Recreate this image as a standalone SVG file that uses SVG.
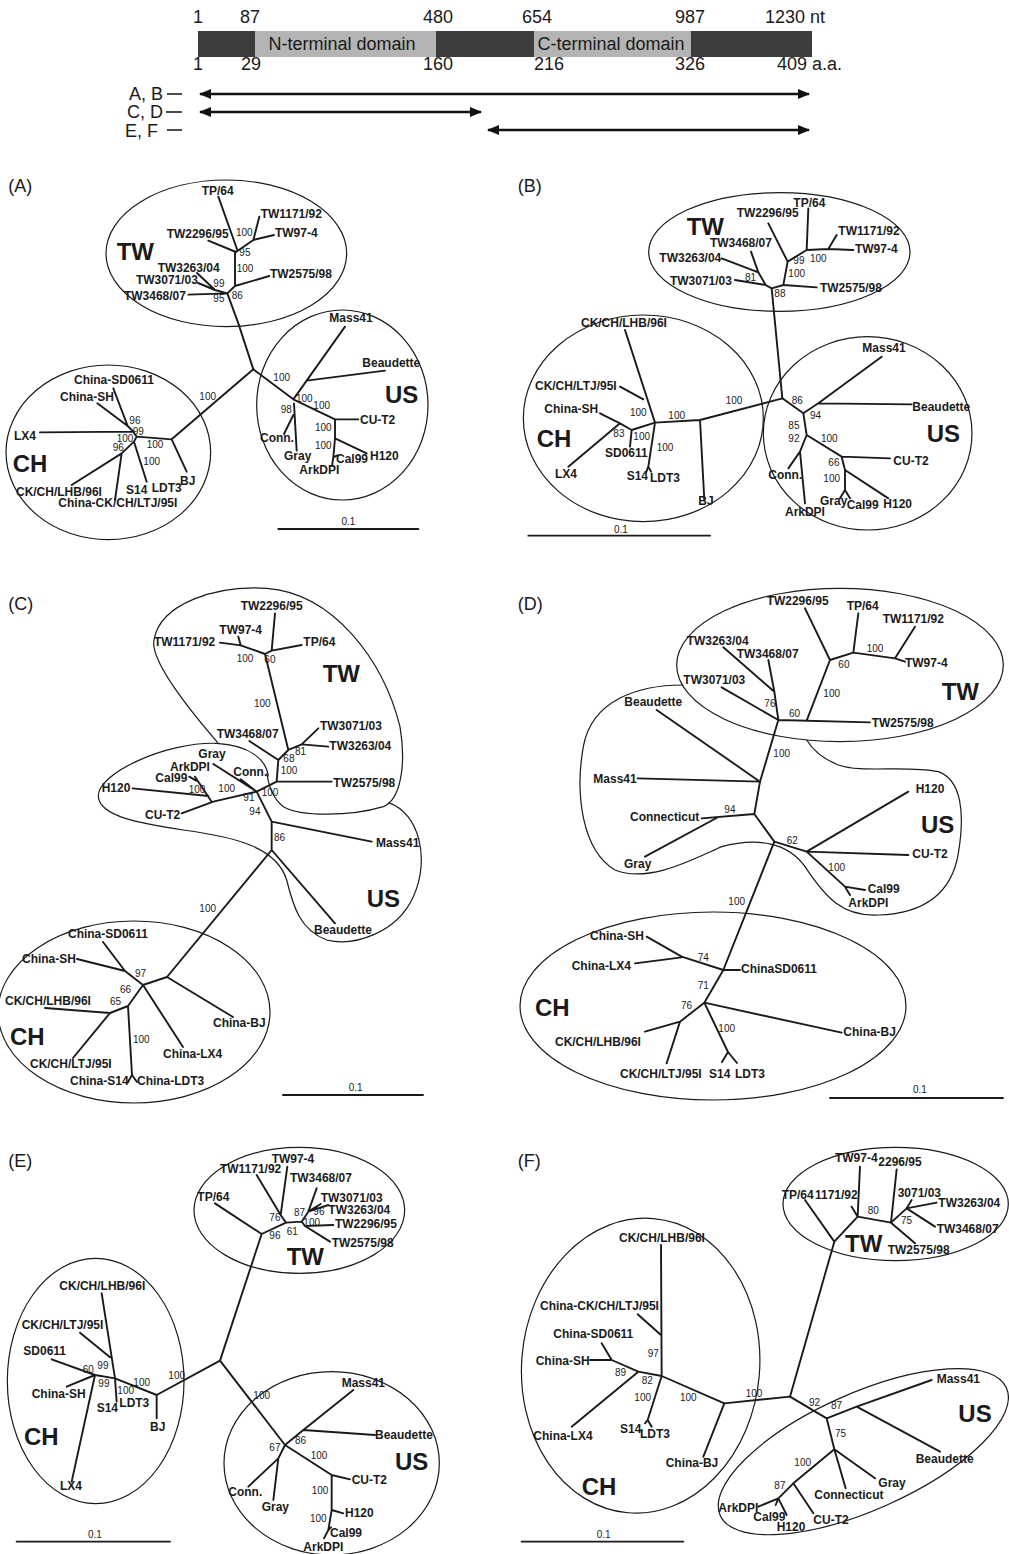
<svg xmlns="http://www.w3.org/2000/svg" width="1009" height="1554" viewBox="0 0 1009 1554">
<style>
.ln{fill:none;stroke:#1a1a1a;stroke-width:1.9;vector-effect:non-scaling-stroke;stroke-linecap:round;stroke-linejoin:round}
.el{fill:none;stroke:#1a1a1a;stroke-width:1.2;vector-effect:non-scaling-stroke}
text{font-family:'Liberation Sans',Arial,Helvetica,sans-serif;fill:#1a1a1a}
.lb{font-size:36px;font-weight:bold}
.bs{font-size:30px}
.big{font-size:72px;font-weight:bold}
.pl{font-size:54px}
.top{font-size:18px}
.dom{font-size:18px}
.arr{fill:none;stroke:#111;stroke-width:2.4}
</style>
<defs>
<marker id="ah" viewBox="0 0 12 10" refX="11" refY="5" markerWidth="12" markerHeight="10" markerUnits="userSpaceOnUse" orient="auto-start-reverse"><path d="M0 0L12 5L0 10z" fill="#111"/></marker>
</defs>
<rect width="1009" height="1554" fill="#fff"/>

<g id="genome-map">
<rect x="198" y="31" width="614" height="26" fill="#3c3c3c"/>
<rect x="255" y="31" width="181" height="26" fill="#b4b4b4"/>
<rect x="534" y="31" width="157" height="26" fill="#b4b4b4"/>
<text class="dom" x="342" y="50" text-anchor="middle">N-terminal domain</text>
<text class="dom" x="611" y="50" text-anchor="middle">C-terminal domain</text>
<g>
<text class="top" x="198" y="23" text-anchor="middle">1</text>
<text class="top" x="250" y="23" text-anchor="middle">87</text>
<text class="top" x="438" y="23" text-anchor="middle">480</text>
<text class="top" x="537" y="23" text-anchor="middle">654</text>
<text class="top" x="690" y="23" text-anchor="middle">987</text>
<text class="top" x="765" y="23">1230 nt</text>
<text class="top" x="198" y="70" text-anchor="middle">1</text>
<text class="top" x="251" y="70" text-anchor="middle">29</text>
<text class="top" x="438" y="70" text-anchor="middle">160</text>
<text class="top" x="549" y="70" text-anchor="middle">216</text>
<text class="top" x="690" y="70" text-anchor="middle">326</text>
<text class="top" x="777" y="70">409 a.a.</text>
<text class="top" x="163" y="100" text-anchor="end">A, B</text>
<text class="top" x="163" y="118" text-anchor="end">C, D</text>
<text class="top" x="158" y="137" text-anchor="end">E, F</text>
</g>
<path d="M167 94H182M166 112H182M167 130H182" stroke="#111" stroke-width="1.5"/>
<path class="arr" d="M200 94H809" marker-start="url(#ah)" marker-end="url(#ah)"/>
<path class="arr" d="M200 112H481" marker-start="url(#ah)" marker-end="url(#ah)"/>
<path class="arr" d="M488 130H809" marker-start="url(#ah)" marker-end="url(#ah)"/>
</g>

<!-- Panel A -->
<g id="panel-A" transform="translate(0,170) scale(0.33333)">
<text class="pl" x="25" y="65">(A)</text>
<g id="A-TW"><ellipse class="el" cx="679" cy="250" rx="361" ry="220"/><text class="big" x="350" y="270">TW</text></g>
<g id="A-US"><ellipse class="el" cx="1027" cy="705" rx="257" ry="285"/><text class="big" x="1155" y="700">US</text></g>
<g id="A-CH"><ellipse class="el" cx="325" cy="847" rx="307" ry="262"/><text class="big" x="38" y="905">CH</text></g>
<g id="A-connectors">
<path class="ln" d="M760 598L715 460L682 370M565 374L682 370M591 309L645 360M594 339L645 360M645 360L682 370M682 370L705 348M705 348L808 318M705 348L705 246M625 212L708 246M655 80L712 240M708 246L760 210M760 210L778 140M760 210L822 195"/>
<path class="ln" d="M760 598L880 688M880 688L920 632M920 632L1035 470M920 632L1155 602M880 688L1005 748M1005 748L1075 748M1005 748L1005 805M1005 805L1100 850M1005 805L1000 862M1000 862L1012 856M1000 862L996 888M882 700L890 842M880 735L852 792"/>
<path class="ln" d="M760 598L515 808M515 808L560 905M515 808L410 800M410 800L400 785M120 787L400 785M400 785L383 768M383 768L292 700M383 768L340 655M410 800L402 815M402 815L440 935M402 815L365 850M365 850L215 945M365 850L345 990"/>
<path class="ln" d="M835 1077H1255"/>
</g>
<g id="A-labels">
<text class="lb" x="605" y="75">TP/64</text>
<text class="lb" x="782" y="145">TW1171/92</text>
<text class="lb" x="500" y="205">TW2296/95</text>
<text class="lb" x="825" y="200">TW97-4</text>
<text class="lb" x="473" y="305">TW3263/04</text>
<text class="lb" x="408" y="343">TW3071/03</text>
<text class="lb" x="372" y="390">TW3468/07</text>
<text class="lb" x="810" y="325">TW2575/98</text>
<text class="lb" x="988" y="455">Mass41</text>
<text class="lb" x="1087" y="592">Beaudette</text>
<text class="lb" x="1080" y="762">CU-T2</text>
<text class="lb" x="1110" y="870">H120</text>
<text class="lb" x="1008" y="880">Cal99</text>
<text class="lb" x="898" y="912">ArkDPI</text>
<text class="lb" x="852" y="870">Gray</text>
<text class="lb" x="780" y="815">Conn.</text>
<text class="lb" x="222" y="642">China-SD0611</text>
<text class="lb" x="180" y="692">China-SH</text>
<text class="lb" x="42" y="810">LX4</text>
<text class="lb" x="48" y="977">CK/CH/LHB/96I</text>
<text class="lb" x="175" y="1012">China-CK/CH/LTJ/95I</text>
<text class="lb" x="378" y="972">S14</text>
<text class="lb" x="455" y="965">LDT3</text>
<text class="lb" x="540" y="945">BJ</text>
<text class="bs" x="708" y="198">100</text>
<text class="bs" x="718" y="258">95</text>
<text class="bs" x="710" y="305">100</text>
<text class="bs" x="640" y="352">99</text>
<text class="bs" x="640" y="395">95</text>
<text class="bs" x="695" y="387">86</text>
<text class="bs" x="820" y="632">100</text>
<text class="bs" x="888" y="697">100</text>
<text class="bs" x="940" y="717">100</text>
<text class="bs" x="842" y="730">98</text>
<text class="bs" x="945" y="782">100</text>
<text class="bs" x="945" y="838">100</text>
<text class="bs" x="598" y="690">100</text>
<text class="bs" x="388" y="763">96</text>
<text class="bs" x="398" y="795">99</text>
<text class="bs" x="350" y="815">100</text>
<text class="bs" x="338" y="843">96</text>
<text class="bs" x="440" y="835">100</text>
<text class="bs" x="430" y="885">100</text>
<text class="bs" x="1045" y="1066" text-anchor="middle">0.1</text>
</g>
</g>

<!-- Panel B -->
<g id="panel-B" transform="translate(505,170) scale(0.33333)">
<text class="pl" x="38" y="65">(B)</text>
<g id="B-TW"><ellipse class="el" cx="823" cy="246" rx="392" ry="178"/><text class="big" x="545" y="195">TW</text></g>
<g id="B-CH"><ellipse class="el" cx="415" cy="745" rx="360" ry="310"/><text class="big" x="95" y="832">CH</text></g>
<g id="B-US"><ellipse class="el" cx="1088" cy="790" rx="313" ry="290"/><text class="big" x="1265" y="817">US</text></g>
<g id="B-connectors">
<path class="ln" d="M832 685L800 355M800 355L782 345M782 345L690 330M782 345L760 307M760 307L650 265M760 307L738 245M800 355L835 345M835 345L935 352M835 345L848 275M848 275L790 160M848 275L905 240M905 240L910 115M905 240L970 237M970 237L995 195M970 237L1045 240"/>
<path class="ln" d="M832 685L585 750M585 750L598 990M585 750L450 758M450 758L360 480M415 688L345 650M450 758L430 890M430 890L424 905M430 890L438 905M450 758L380 780M380 780L375 830M380 780L345 760M345 760L285 730M345 760L190 890"/>
<path class="ln" d="M832 685L895 730M895 730L940 700M940 700L1130 560M940 700L1220 703M895 730L905 795M905 795L885 845M885 845L850 895M885 845L900 1000M905 795L1010 860M1010 860L1155 865M1010 860L1020 900M1020 900L1150 985M1020 900L1020 960M1020 960L1005 985M1020 960L1035 985"/>
<path class="ln" d="M70 1097H615"/>
</g>
<g id="B-labels">
<text class="lb" x="495" y="345">TW3071/03</text>
<text class="lb" x="463" y="275">TW3263/04</text>
<text class="lb" x="615" y="230">TW3468/07</text>
<text class="lb" x="945" y="365">TW2575/98</text>
<text class="lb" x="695" y="140">TW2296/95</text>
<text class="lb" x="865" y="110">TP/64</text>
<text class="lb" x="1000" y="195">TW1171/92</text>
<text class="lb" x="1050" y="250">TW97-4</text>
<text class="lb" x="228" y="470">CK/CH/LHB/96I</text>
<text class="lb" x="90" y="660">CK/CH/LTJ/95I</text>
<text class="lb" x="118" y="730">China-SH</text>
<text class="lb" x="300" y="860">SD0611</text>
<text class="lb" x="150" y="925">LX4</text>
<text class="lb" x="365" y="930">S14</text>
<text class="lb" x="435" y="935">LDT3</text>
<text class="lb" x="580" y="1005">BJ</text>
<text class="lb" x="1072" y="545">Mass41</text>
<text class="lb" x="1222" y="722">Beaudette</text>
<text class="lb" x="790" y="927">Conn.</text>
<text class="lb" x="840" y="1037">ArkDPI</text>
<text class="lb" x="1165" y="885">CU-T2</text>
<text class="lb" x="1135" y="1015">H120</text>
<text class="lb" x="945" y="1005">Gray</text>
<text class="lb" x="1025" y="1017">Cal99</text>
<text class="bs" x="720" y="332">81</text>
<text class="bs" x="808" y="382">88</text>
<text class="bs" x="850" y="322">100</text>
<text class="bs" x="865" y="282">99</text>
<text class="bs" x="915" y="277">100</text>
<text class="bs" x="662" y="702">100</text>
<text class="bs" x="490" y="747">100</text>
<text class="bs" x="375" y="737">100</text>
<text class="bs" x="325" y="802">83</text>
<text class="bs" x="385" y="810">100</text>
<text class="bs" x="455" y="842">100</text>
<text class="bs" x="860" y="702">86</text>
<text class="bs" x="915" y="747">94</text>
<text class="bs" x="850" y="777">85</text>
<text class="bs" x="850" y="817">92</text>
<text class="bs" x="948" y="817">100</text>
<text class="bs" x="970" y="887">66</text>
<text class="bs" x="955" y="937">100</text>
<text class="bs" x="348" y="1088" text-anchor="middle">0.1</text>
</g>
</g>

<!-- Panel C -->
<g id="panel-C" transform="translate(0,560) scale(0.33333)">
<text class="pl" x="25" y="150">(C)</text>
<g id="C-TW"><path class="el" d="M655 550C560 440 450 300 462 240C480 130 650 75 800 85C1000 100 1150 300 1200 500C1220 620 1200 720 1150 740C1050 770 900 770 850 740C810 710 805 660 800 640"/><text class="big" x="968" y="365">TW</text></g>
<g id="C-US"><path class="el" d="M1165 728C1260 760 1290 900 1240 1010C1190 1120 1060 1160 980 1140C900 1110 880 1040 860 960C830 860 700 830 550 810C420 790 300 770 295 710C290 640 500 545 650 550C750 555 800 600 805 650"/><text class="big" x="1100" y="1040">US</text></g>
<g id="C-CH"><ellipse class="el" cx="402" cy="1356" rx="408" ry="273"/><text class="big" x="30" y="1455">CH</text></g>
<g id="C-connectors">
<path class="ln" d="M722 256L660 248M722 256L715 230M722 256L795 282M795 282L815 272M815 272L825 160M815 272L905 255M795 282L865 570M865 570L905 553M905 553L955 505M905 553L985 560M865 570L835 600M835 600L748 543M835 600L830 665M830 665L995 665M830 665L770 695"/>
<path class="ln" d="M770 695L640 725M585 650L635 725M568 650L588 662M398 685L625 708M545 760L640 725M770 695L640 612M770 695L722 658M770 695L815 785M815 785L1115 845M815 785L815 870M815 870L1005 1090M815 870L501 1251"/>
<path class="ln" d="M501 1251L429 1275M429 1275L375 1233M375 1233L309 1146M375 1233L231 1197M501 1251L699 1371M429 1275L384 1338M384 1338L330 1359M330 1359L135 1344M330 1359L219 1494M384 1338L396 1545M396 1545L384 1566M396 1545L411 1566M429 1275L549 1461"/>
<path class="ln" d="M849 1605H1269"/>
</g>
<g id="C-labels">
<text class="lb" x="722" y="150">TW2296/95</text>
<text class="lb" x="658" y="222">TW97-4</text>
<text class="lb" x="462" y="258">TW1171/92</text>
<text class="lb" x="910" y="258">TP/64</text>
<text class="lb" x="650" y="535">TW3468/07</text>
<text class="lb" x="960" y="510">TW3071/03</text>
<text class="lb" x="988" y="570">TW3263/04</text>
<text class="lb" x="1000" y="680">TW2575/98</text>
<text class="lb" x="595" y="595">Gray</text>
<text class="lb" x="510" y="632">ArkDPI</text>
<text class="lb" x="700" y="647">Conn.</text>
<text class="lb" x="466" y="666">Cal99</text>
<text class="lb" x="305" y="697">H120</text>
<text class="lb" x="435" y="777">CU-T2</text>
<text class="lb" x="1128" y="860">Mass41</text>
<text class="lb" x="942" y="1122">Beaudette</text>
<text class="lb" x="204" y="1134">China-SD0611</text>
<text class="lb" x="66" y="1209">China-SH</text>
<text class="lb" x="639" y="1401">China-BJ</text>
<text class="lb" x="15" y="1335">CK/CH/LHB/96I</text>
<text class="lb" x="90" y="1524">CK/CH/LTJ/95I</text>
<text class="lb" x="210" y="1575">China-S14</text>
<text class="lb" x="411" y="1575">China-LDT3</text>
<text class="lb" x="489" y="1494">China-LX4</text>
<text class="bs" x="710" y="307">100</text>
<text class="bs" x="793" y="309">60</text>
<text class="bs" x="762" y="442">100</text>
<text class="bs" x="850" y="607">68</text>
<text class="bs" x="885" y="585">81</text>
<text class="bs" x="842" y="642">100</text>
<text class="bs" x="785" y="707">100</text>
<text class="bs" x="566" y="700">100</text>
<text class="bs" x="655" y="697">100</text>
<text class="bs" x="730" y="722">91</text>
<text class="bs" x="748" y="764">94</text>
<text class="bs" x="822" y="842">86</text>
<text class="bs" x="598" y="1057">100</text>
<text class="bs" x="405" y="1251">97</text>
<text class="bs" x="360" y="1299">66</text>
<text class="bs" x="330" y="1335">65</text>
<text class="bs" x="399" y="1449">100</text>
<text class="bs" x="1067" y="1593" text-anchor="middle">0.1</text>
</g>
</g>

<!-- Panel D -->
<g id="panel-D" transform="translate(505,560) scale(0.33333)">
<text class="pl" x="38" y="150">(D)</text>
<g id="D-TW"><ellipse class="el" cx="1005" cy="315" rx="490" ry="230"/><text class="big" x="1310" y="420">TW</text></g>
<g id="D-US"><path class="el" d="M535 375C400 375 260 420 235 560C210 700 230 870 330 930C430 970 560 900 650 860C760 830 850 850 900 920C960 1010 1010 1070 1120 1065C1260 1060 1340 1000 1360 880C1380 760 1370 660 1300 635C1200 615 1070 640 1000 615C950 595 920 565 905 540"/><text class="big" x="1248" y="820">US</text></g>
<g id="D-CH"><ellipse class="el" cx="624" cy="1338" rx="579" ry="282"/><text class="big" x="90" y="1367">CH</text></g>
<g id="D-connectors">
<path class="ln" d="M975 300L900 145M975 300L1045 278M1045 278L1060 160M1045 278L1170 295M1170 295L1230 200M1170 295L1200 305M975 300L905 482M820 480L1095 487M820 480L650 382M820 480L808 395M808 395L655 262M808 395L790 300M820 480L765 665"/>
<path class="ln" d="M765 665L455 450M765 665L398 655M765 665L748 762M748 762L590 775M640 771L420 890M748 762L808 845M808 845L905 875M905 875L1210 695M905 875L1210 885M905 875L1020 980M1020 980L1080 990M1020 980L1035 1005M808 845L655 1230"/>
<path class="ln" d="M425 1130L530 1190L655 1230M390 1210L530 1192M655 1230L705 1230M655 1230L598 1328M598 1328L1010 1418M598 1328L669 1476M669 1476L651 1506M669 1476L696 1509M598 1328L525 1385M525 1385L420 1415M525 1385L485 1510"/>
<path class="ln" d="M975 1614H1494"/>
</g>
<g id="D-labels">
<text class="lb" x="785" y="135">TW2296/95</text>
<text class="lb" x="1025" y="150">TP/64</text>
<text class="lb" x="1133" y="190">TW1171/92</text>
<text class="lb" x="1200" y="322">TW97-4</text>
<text class="lb" x="545" y="255">TW3263/04</text>
<text class="lb" x="695" y="295">TW3468/07</text>
<text class="lb" x="535" y="372">TW3071/03</text>
<text class="lb" x="1100" y="500">TW2575/98</text>
<text class="lb" x="358" y="438">Beaudette</text>
<text class="lb" x="265" y="668">Mass41</text>
<text class="lb" x="375" y="782">Connecticut</text>
<text class="lb" x="357" y="925">Gray</text>
<text class="lb" x="1232" y="700">H120</text>
<text class="lb" x="1222" y="895">CU-T2</text>
<text class="lb" x="1088" y="1000">Cal99</text>
<text class="lb" x="1030" y="1040">ArkDPI</text>
<text class="lb" x="255" y="1140">China-SH</text>
<text class="lb" x="200" y="1230">China-LX4</text>
<text class="lb" x="708" y="1240">ChinaSD0611</text>
<text class="lb" x="1015" y="1428">China-BJ</text>
<text class="lb" x="150" y="1458">CK/CH/LHB/96I</text>
<text class="lb" x="345" y="1554">CK/CH/LTJ/95I</text>
<text class="lb" x="612" y="1554">S14</text>
<text class="lb" x="690" y="1554">LDT3</text>
<text class="bs" x="1085" y="277">100</text>
<text class="bs" x="1000" y="324">60</text>
<text class="bs" x="955" y="410">100</text>
<text class="bs" x="852" y="470">60</text>
<text class="bs" x="778" y="442">76</text>
<text class="bs" x="805" y="590">100</text>
<text class="bs" x="658" y="760">94</text>
<text class="bs" x="845" y="852">62</text>
<text class="bs" x="970" y="932">100</text>
<text class="bs" x="670" y="1034">100</text>
<text class="bs" x="578" y="1202">74</text>
<text class="bs" x="578" y="1287">71</text>
<text class="bs" x="528" y="1347">76</text>
<text class="bs" x="640" y="1417">100</text>
<text class="bs" x="1245" y="1600" text-anchor="middle">0.1</text>
</g>
</g>

<!-- Panel E -->
<g id="panel-E" transform="translate(0,1040) scale(0.33333)">
<text class="pl" x="25" y="380">(E)</text>
<g id="E-TW"><ellipse class="el" cx="898" cy="511" rx="316" ry="189"/><text class="big" x="860" y="675">TW</text></g>
<g id="E-CH"><ellipse class="el" cx="287" cy="1023" rx="265" ry="368"/><text class="big" x="72" y="1215">CH</text></g>
<g id="E-US"><ellipse class="el" cx="995" cy="1270" rx="323" ry="275"/><text class="big" x="1185" y="1290">US</text></g>
<g id="E-connectors">
<path class="ln" d="M660 962L785 582M785 582L645 490M785 582L858 548M858 548L842 525M842 525L770 405M842 525L862 380M858 548L905 545M905 545L925 515M925 515L950 445M925 515L962 492M925 515L985 495M905 545L915 558M915 558L1000 555M915 558L990 605"/>
<path class="ln" d="M660 962L470 1065M470 1065L470 1135M470 1065L345 1015M345 1015L350 1085M345 1015L305 760M240 878L330 952M345 1015L285 1005M285 1005L155 958M285 1005L200 1040M285 1005L215 1325"/>
<path class="ln" d="M660 962L855 1215M855 1215L910 1170M910 1170L1060 1050M910 1170L1125 1185M855 1215L835 1255M835 1255L745 1340M835 1255L820 1380M855 1215L995 1305M995 1305L1050 1318M995 1305L995 1410M995 1410L1030 1420M995 1410L985 1470L972 1495M985 1470L993 1462"/>
<path class="ln" d="M50 1505H510"/>
</g>
<g id="E-labels">
<text class="lb" x="592" y="482">TP/64</text>
<text class="lb" x="660" y="400">TW1171/92</text>
<text class="lb" x="815" y="370">TW97-4</text>
<text class="lb" x="870" y="425">TW3468/07</text>
<text class="lb" x="962" y="485">TW3071/03</text>
<text class="lb" x="985" y="522">TW3263/04</text>
<text class="lb" x="1005" y="565">TW2296/95</text>
<text class="lb" x="995" y="622">TW2575/98</text>
<text class="lb" x="178" y="750">CK/CH/LHB/96I</text>
<text class="lb" x="65" y="868">CK/CH/LTJ/95I</text>
<text class="lb" x="70" y="945">SD0611</text>
<text class="lb" x="95" y="1075">China-SH</text>
<text class="lb" x="290" y="1117">S14</text>
<text class="lb" x="358" y="1102">LDT3</text>
<text class="lb" x="450" y="1172">BJ</text>
<text class="lb" x="180" y="1350">LX4</text>
<text class="lb" x="1025" y="1040">Mass41</text>
<text class="lb" x="1125" y="1197">Beaudette</text>
<text class="lb" x="685" y="1367">Conn.</text>
<text class="lb" x="785" y="1412">Gray</text>
<text class="lb" x="1055" y="1332">CU-T2</text>
<text class="lb" x="1035" y="1432">H120</text>
<text class="lb" x="990" y="1490">Cal99</text>
<text class="lb" x="910" y="1532">ArkDPI</text>
<text class="bs" x="808" y="597">96</text>
<text class="bs" x="808" y="542">76</text>
<text class="bs" x="860" y="584">61</text>
<text class="bs" x="882" y="527">87</text>
<text class="bs" x="940" y="524">96</text>
<text class="bs" x="910" y="557">100</text>
<text class="bs" x="505" y="1017">100</text>
<text class="bs" x="400" y="1037">100</text>
<text class="bs" x="292" y="987">99</text>
<text class="bs" x="295" y="1040">99</text>
<text class="bs" x="248" y="1000">60</text>
<text class="bs" x="352" y="1062">100</text>
<text class="bs" x="760" y="1077">100</text>
<text class="bs" x="808" y="1234">67</text>
<text class="bs" x="885" y="1212">86</text>
<text class="bs" x="932" y="1257">100</text>
<text class="bs" x="935" y="1362">100</text>
<text class="bs" x="930" y="1447">100</text>
<text class="bs" x="285" y="1495" text-anchor="middle">0.1</text>
</g>
</g>

<!-- Panel F -->
<g id="panel-F" transform="translate(505,1040) scale(0.33333)">
<text class="pl" x="38" y="380">(F)</text>
<g id="F-TW"><ellipse class="el" cx="1172" cy="492" rx="338" ry="170"/><text class="big" x="1020" y="635">TW</text></g>
<g id="F-CH"><ellipse class="el" cx="407" cy="977" rx="357" ry="443" transform="rotate(5 407 977)"/><text class="big" x="230" y="1365">CH</text></g>
<g id="F-US"><ellipse class="el" cx="1075" cy="1235" rx="470" ry="175" transform="rotate(-24 1075 1235)"/><text class="big" x="1360" y="1145">US</text></g>
<g id="F-connectors">
<path class="ln" d="M855 1070L988 605M988 605L900 480M988 605L1058 530M1058 530L1040 500M1058 530L1065 380M1058 530L1158 548M1158 548L1175 388M1158 548L1205 505M1205 505L1220 480M1205 505L1295 488M1205 505L1290 560M1158 548L1230 610"/>
<path class="ln" d="M855 1070L658 1090M658 1090L595 1250M658 1090L470 1008M470 1008L468 615M398 823L468 885M470 1008L428 1140M428 1140L420 1150M428 1140L440 1160M470 1008L400 995M400 995L200 1160M400 995L320 960M320 960L255 960M320 960L290 910"/>
<path class="ln" d="M855 1070L965 1135M965 1135L1055 1100M1055 1100L1280 1020M1055 1100L1305 1235M965 1135L988 1228M988 1228L1110 1315M988 1228L1022 1345M988 1228L865 1330M865 1330L925 1420M865 1330L820 1375M820 1375L760 1400M820 1375L812 1395M820 1375L845 1425"/>
<path class="ln" d="M50 1505H535"/>
</g>
<g id="F-labels">
<text class="lb" x="830" y="478">TP/64</text>
<text class="lb" x="930" y="478">1171/92</text>
<text class="lb" x="990" y="365">TW97-4</text>
<text class="lb" x="1120" y="378">2296/95</text>
<text class="lb" x="1178" y="470">3071/03</text>
<text class="lb" x="1300" y="500">TW3263/04</text>
<text class="lb" x="1295" y="578">TW3468/07</text>
<text class="lb" x="1148" y="642">TW2575/98</text>
<text class="lb" x="342" y="605">CK/CH/LHB/96I</text>
<text class="lb" x="105" y="810">China-CK/CH/LTJ/95I</text>
<text class="lb" x="145" y="895">China-SD0611</text>
<text class="lb" x="92" y="975">China-SH</text>
<text class="lb" x="85" y="1200">China-LX4</text>
<text class="lb" x="345" y="1178">S14</text>
<text class="lb" x="405" y="1195">LDT3</text>
<text class="lb" x="482" y="1280">China-BJ</text>
<text class="lb" x="1295" y="1030">Mass41</text>
<text class="lb" x="1232" y="1270">Beaudette</text>
<text class="lb" x="1120" y="1340">Gray</text>
<text class="lb" x="928" y="1377">Connecticut</text>
<text class="lb" x="925" y="1452">CU-T2</text>
<text class="lb" x="640" y="1417">ArkDPI</text>
<text class="lb" x="745" y="1442">Cal99</text>
<text class="lb" x="815" y="1472">H120</text>
<text class="bs" x="1088" y="522">80</text>
<text class="bs" x="1188" y="552">75</text>
<text class="bs" x="428" y="952">97</text>
<text class="bs" x="330" y="1007">89</text>
<text class="bs" x="410" y="1032">82</text>
<text class="bs" x="388" y="1082">100</text>
<text class="bs" x="525" y="1082">100</text>
<text class="bs" x="722" y="1072">100</text>
<text class="bs" x="912" y="1097">92</text>
<text class="bs" x="978" y="1107">87</text>
<text class="bs" x="990" y="1192">75</text>
<text class="bs" x="868" y="1277">100</text>
<text class="bs" x="808" y="1347">87</text>
<text class="bs" x="296" y="1495" text-anchor="middle">0.1</text>
</g>
</g>
</svg>
